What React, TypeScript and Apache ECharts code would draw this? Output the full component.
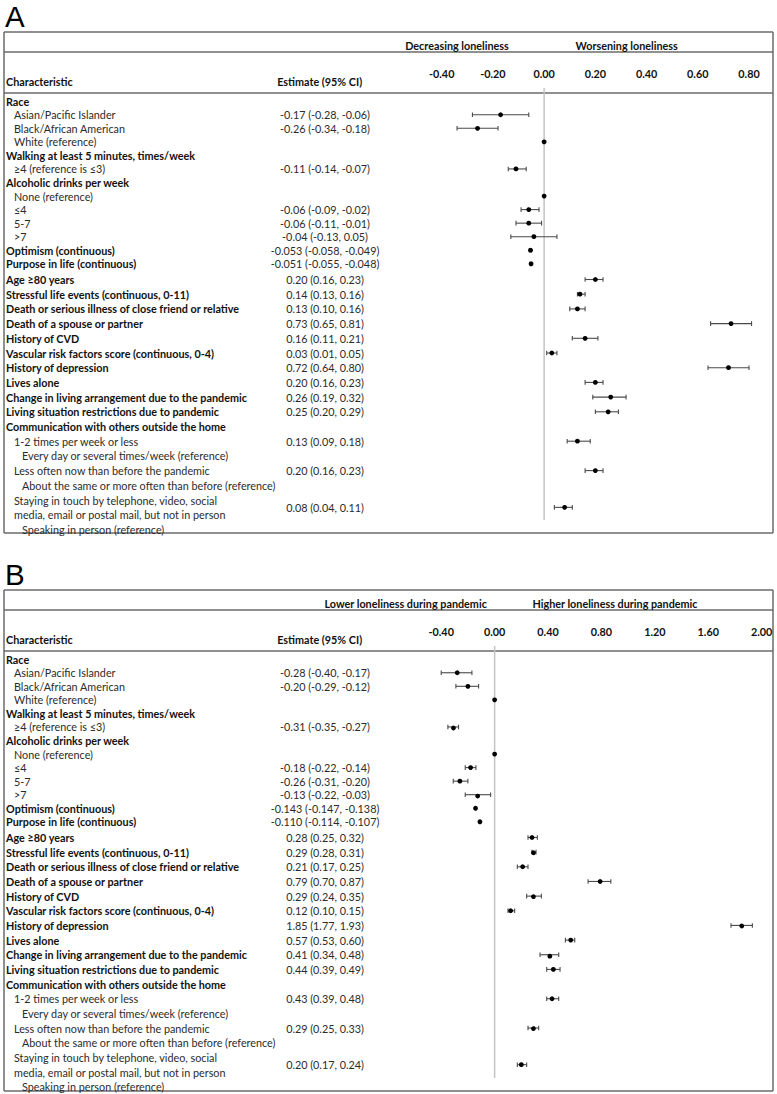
import React, { useEffect, useRef } from "react";
import * as echarts from "echarts";

// ---------- DATA ----------
const LINES: string[] = [
  "Race",
  "Asian/Pacific Islander",
  "Black/African American",
  "White (reference)",
  "Walking at least 5 minutes, times/week",
  "≥4 (reference is ≤3)",
  "Alcoholic drinks per week",
  "None (reference)",
  "≤4",
  "5-7",
  ">7",
  "Optimism (continuous)",
  "Purpose in life (continuous)",
  "Age ≥80 years",
  "Stressful life events (continuous, 0-11)",
  "Death or serious illness of close friend or relative",
  "Death of a spouse or partner",
  "History of CVD",
  "Vascular risk factors score (continuous, 0-4)",
  "History of depression",
  "Lives alone",
  "Change in living arrangement due to the pandemic",
  "Living situation restrictions due to pandemic",
  "Communication with others outside the home",
  "1-2 times per week or less",
  "Every day or several times/week (reference)",
  "Less often now than before the pandemic",
  "About the same or more often than before (reference)",
  "Staying in touch by telephone, video, social",
  "media, email or postal mail, but not in person",
  "Speaking in person (reference)",
];
// hierarchy level of each line: 0 = characteristic, 1 = category, 2 = reference sub-category
const LEVELS = [0, 1, 1, 1, 0, 1, 0, 1, 1, 1, 1, 0, 0, 0, 0, 0, 0, 0, 0, 0, 0, 0, 0, 0, 1, 2, 1, 2, 1, 1, 2];

const ESTIMATE_ROWS = [
  "Asian/Pacific Islander",
  "Black/African American",
  "White (reference)",
  "≥4 (reference is ≤3)",
  "None (reference)",
  "≤4",
  "5-7",
  ">7",
  "Optimism (continuous)",
  "Purpose in life (continuous)",
  "Age ≥80 years",
  "Stressful life events (continuous, 0-11)",
  "Death or serious illness of close friend or relative",
  "Death of a spouse or partner",
  "History of CVD",
  "Vascular risk factors score (continuous, 0-4)",
  "History of depression",
  "Lives alone",
  "Change in living arrangement due to the pandemic",
  "Living situation restrictions due to pandemic",
  "1-2 times per week or less",
  "Less often now than before the pandemic",
  "Staying in touch by telephone, video, social",
];
// rows whose label continues on the following line
const WRAPPED_ROWS = ["Staying in touch by telephone, video, social"];

const A_EST = [-0.17, -0.26, 0, -0.11, 0, -0.06, -0.06, -0.04, -0.053, -0.051, 0.2, 0.14, 0.13, 0.73, 0.16, 0.03, 0.72, 0.2, 0.26, 0.25, 0.13, 0.2, 0.08];
const A_LOW = [-0.28, -0.34, null, -0.14, null, -0.09, -0.11, -0.13, -0.058, -0.055, 0.16, 0.13, 0.1, 0.65, 0.11, 0.01, 0.64, 0.16, 0.19, 0.2, 0.09, 0.16, 0.04];
const A_HIGH = [-0.06, -0.18, null, -0.07, null, -0.02, -0.01, 0.05, -0.049, -0.048, 0.23, 0.16, 0.16, 0.81, 0.21, 0.05, 0.8, 0.23, 0.32, 0.29, 0.18, 0.23, 0.11];
const A_TICKS = [-0.4, -0.2, 0, 0.2, 0.4, 0.6, 0.8];

const B_EST = [-0.28, -0.2, 0, -0.31, 0, -0.18, -0.26, -0.13, -0.143, -0.11, 0.28, 0.29, 0.21, 0.79, 0.29, 0.12, 1.85, 0.57, 0.41, 0.44, 0.43, 0.29, 0.2];
const B_LOW = [-0.4, -0.29, null, -0.35, null, -0.22, -0.31, -0.22, -0.147, -0.114, 0.25, 0.28, 0.17, 0.7, 0.24, 0.1, 1.77, 0.53, 0.34, 0.39, 0.39, 0.25, 0.17];
const B_HIGH = [-0.17, -0.12, null, -0.27, null, -0.14, -0.2, -0.03, -0.138, -0.107, 0.32, 0.31, 0.25, 0.87, 0.35, 0.15, 1.93, 0.6, 0.48, 0.49, 0.48, 0.33, 0.24];
const B_TICKS = [-0.4, 0, 0.4, 0.8, 1.2, 1.6, 2.0];

const A_SIDES = ["Decreasing loneliness", "Worsening loneliness"];
const B_SIDES = ["Lower loneliness during pandemic", "Higher loneliness during pandemic"];

// ---------- LAYOUT / STYLE ----------
const W = 777;
const H = 1094;
const FONT = "Lato";
const FS = 10.8;
const TEXT_DARK = "#111";
const TEXT = "#2b2b2b";
const BORDER = "#6b6b6b";
const WHISKER = "#4a4a4a";
const EST_X = 325;

const SEGMENTS = [
  { start: 0, end: 13, c0: 101.2, step: 13.55 },
  { start: 13, end: 31, c0: 279.5, step: 14.7 },
];

const PANELS = [
  { name: "A", oy: 0, ticks: A_TICKS, est: A_EST, low: A_LOW, high: A_HIGH, left: 441.7, rightPx: 749.0, sides: A_SIDES, sideX: [457, 626.7] },
  { name: "B", oy: 558, ticks: B_TICKS, est: B_EST, low: B_LOW, high: B_HIGH, left: 441.2, rightPx: 761.7, sides: B_SIDES, sideX: [405.7, 615] },
];

function decimalsFor(vals: number[]) {
  return vals.some((v) => Math.abs(v * 100 - Math.round(v * 100)) > 1e-6) ? 3 : 2;
}

function buildItems(p: any) {
  return ESTIMATE_ROWS.map((label, i) => {
    const line = LINES.indexOf(label);
    const seg = line < SEGMENTS[1].start ? 0 : 1;
    const est = p.est[i];
    const low = p.low[i];
    const high = p.high[i];
    let text = "";
    if (low !== null && high !== null) {
      const d = decimalsFor([est, low, high]);
      const f = (v: number) => (Math.abs(v) < 1e-12 ? 0 : v).toFixed(d);
      text = `${f(est)} (${f(low)}, ${f(high)})`;
    }
    return {
      seg,
      local: line - SEGMENTS[seg].start,
      span: WRAPPED_ROWS.includes(label) ? 2 : 1,
      est,
      low,
      high,
      text,
    };
  });
}

const textStyle = (extra: any) => ({
  fontFamily: FONT,
  fontSize: FS,
  fill: TEXT,
  ...extra,
});

function makeRender(items: any[]) {
  return (params: any, api: any) => {
    const it = items[params.dataIndex];
    const pTop = api.coord([it.est, it.local]);
    const pBot = api.coord([it.est, it.local + it.span - 1]);
    const y = (pTop[1] + pBot[1]) / 2;
    const cx = pTop[0];
    const children: any[] = [];
    if (it.low !== null && it.high !== null) {
      const xl = api.coord([it.low, it.local])[0];
      const xh = api.coord([it.high, it.local])[0];
      const ls = { stroke: WHISKER, lineWidth: 1.1 };
      children.push({ type: "line", shape: { x1: xl, y1: y, x2: xh, y2: y }, style: ls });
      children.push({ type: "line", shape: { x1: xl, y1: y - 2.3, x2: xl, y2: y + 2.3 }, style: ls });
      children.push({ type: "line", shape: { x1: xh, y1: y - 2.3, x2: xh, y2: y + 2.3 }, style: ls });
      children.push({
        type: "text",
        style: textStyle({
          x: EST_X,
          y,
          text: it.text,
          textAlign: "center",
          textVerticalAlign: "middle",
          align: "center",
          verticalAlign: "middle",
        }),
      });
    }
    children.push({ type: "circle", shape: { cx, cy: y, r: 2.4 }, style: { fill: "#000" } });
    return { type: "group", children };
  };
}

function buildOption() {
  const grid: any[] = [];
  const xAxis: any[] = [];
  const yAxis: any[] = [];
  const series: any[] = [];
  PANELS.forEach((p, pi) => {
    const items = buildItems(p);
    const t = p.ticks;
    SEGMENTS.forEach((s, si) => {
      const gi = pi * 2 + si;
      grid.push({
        left: p.left,
        right: W - p.rightPx,
        top: s.c0 - s.step / 2 + p.oy,
        height: (s.end - s.start) * s.step,
        containLabel: false,
      });
      xAxis.push({
        type: "value",
        gridIndex: gi,
        position: "top",
        min: t[0],
        max: t[t.length - 1],
        interval: t[1] - t[0],
        axisLine: { show: false },
        axisTick: { show: false },
        splitLine: { show: false },
        axisLabel: {
          show: si === 0,
          margin: 15.6,
          fontFamily: FONT,
          fontSize: FS,
          fontWeight: "bold",
          color: TEXT_DARK,
          formatter: (v: number) => (Math.abs(v) < 1e-9 ? 0 : v).toFixed(2),
        },
      });
      yAxis.push({
        type: "category",
        gridIndex: gi,
        inverse: true,
        data: LINES.slice(s.start, s.end),
        axisLine: { show: false },
        axisTick: { show: false },
        splitLine: { show: false },
        axisLabel: {
          interval: 0,
          align: "left",
          margin: p.left - 6,
          formatter: (v: string, i: number) => `{${["b", "n", "m"][LEVELS[s.start + i]]}|${v}}`,
          rich: {
            b: { fontFamily: FONT, fontSize: FS, fontWeight: "bold", color: TEXT_DARK },
            n: { fontFamily: FONT, fontSize: FS, color: TEXT, padding: [0, 0, 0, 8] },
            m: { fontFamily: FONT, fontSize: FS, color: TEXT, padding: [0, 0, 0, 16] },
          },
        },
      });
      const segItems = items.filter((it) => it.seg === si);
      series.push({
        type: "custom",
        xAxisIndex: gi,
        yAxisIndex: gi,
        clip: false,
        silent: true,
        data: segItems.map((it) => [it.est, it.local]),
        encode: { x: 0, y: 1 },
        renderItem: makeRender(segItems),
      });
    });
  });
  return { animation: false, backgroundColor: "#fff", grid, xAxis, yAxis, series };
}

function buildGraphics(zeros: number[]) {
  const g: any[] = [];
  const line = (x1: number, y1: number, x2: number, y2: number, stroke = BORDER, lw = 1.5) => ({
    type: "line",
    silent: true,
    shape: { x1, y1, x2, y2 },
    style: { stroke, lineWidth: lw },
  });
  PANELS.forEach((p, pi) => {
    const oy = p.oy;
    g.push({
      type: "text",
      silent: true,
      style: { x: 5, y: 16.5 + oy, text: p.name, fontFamily: "Liberation Sans", fontSize: 29.5, fill: "#000", textVerticalAlign: "middle", verticalAlign: "middle" },
    });
    g.push(line(4, 32 + oy, 773, 32 + oy));
    g.push(line(4, 52 + oy, 773, 52 + oy));
    g.push(line(4, 93 + oy, 773, 93 + oy));
    g.push(line(4, 533 + oy, 773, 533 + oy));
    g.push(line(4, 32 + oy, 4, 533 + oy));
    g.push(line(773, 32 + oy, 773, 533 + oy));
    g.push(line(zeros[pi], 88 + oy, zeros[pi], 520 + oy, "#c4c4c4", 1.5));
    const bold = (x: number, y: number, text: string, align: string) => ({
      type: "text",
      silent: true,
      style: {
        x,
        y,
        text,
        fontFamily: FONT,
        fontSize: FS,
        fontWeight: "bold",
        fill: TEXT_DARK,
        textAlign: align,
        align,
        textVerticalAlign: "middle",
        verticalAlign: "middle",
      },
    });
    g.push(bold(p.sideX[0], 45.7 + oy, p.sides[0], "center"));
    g.push(bold(p.sideX[1], 45.7 + oy, p.sides[1], "center"));
    g.push(bold(6, 81.7 + oy, "Characteristic", "left"));
    g.push(bold(319.7, 81.7 + oy, "Estimate (95% CI)", "center"));
  });
  return g;
}

export default function App() {
  const ref = useRef<HTMLDivElement>(null);
  useEffect(() => {
    document.body.style.margin = "0";
    const chart = echarts.init(ref.current!, null, { renderer: "svg" });
    chart.setOption(buildOption());
    const zeros = [
      chart.convertToPixel({ xAxisIndex: 0 } as any, 0) as unknown as number,
      chart.convertToPixel({ xAxisIndex: 2 } as any, 0) as unknown as number,
    ];
    chart.setOption({ graphic: buildGraphics(zeros) });
    return () => chart.dispose();
  }, []);
  return <div ref={ref} style={{ position: "absolute", left: 0, top: 0, width: W, height: H }} />;
}
